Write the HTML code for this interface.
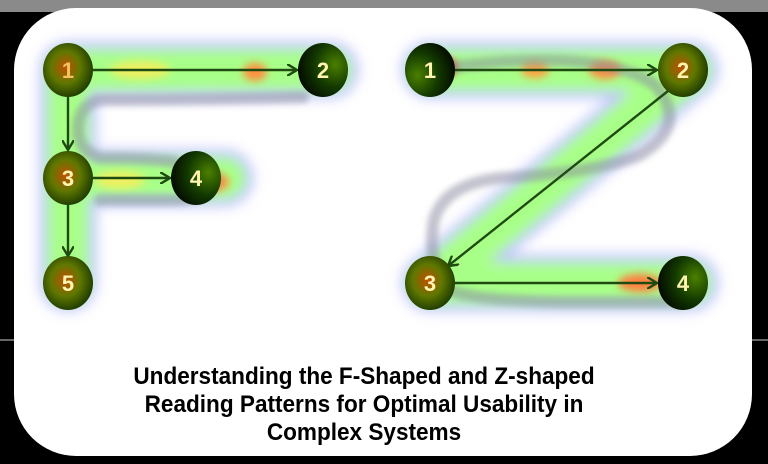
<!DOCTYPE html>
<html><head><meta charset="utf-8"><style>
html,body{margin:0;padding:0;background:#000;}
body{width:768px;height:464px;overflow:hidden;position:relative;}
.t{position:absolute;left:0;width:728px;text-align:center;font:bold 24px "Liberation Sans",sans-serif;color:#000;transform:scaleX(0.94);transform-origin:364px 0;}
</style></head><body>
<svg width="768" height="464" style="position:absolute;left:0;top:0">
<defs>
<filter id="b" x="-30%" y="-60%" width="160%" height="220%"><feGaussianBlur stdDeviation="6"/></filter>
<filter id="b3" x="-30%" y="-60%" width="160%" height="220%"><feGaussianBlur stdDeviation="3"/></filter>
<filter id="b2" x="-30%" y="-60%" width="160%" height="220%"><feGaussianBlur stdDeviation="4"/></filter>
<radialGradient id="g1" cx="0.45" cy="0.45" r="0.65"><stop offset="0" stop-color="#c05000"/><stop offset="0.45" stop-color="#607800"/><stop offset="1" stop-color="#0b2a00"/></radialGradient>
<radialGradient id="g2" cx="0.75" cy="0.4" r="0.85"><stop offset="0" stop-color="#4a8000"/><stop offset="0.5" stop-color="#123800"/><stop offset="1" stop-color="#000"/></radialGradient>
<marker id="a" markerWidth="12" markerHeight="12" refX="10" refY="6" orient="auto" markerUnits="userSpaceOnUse" viewBox="0 0 12 12"><path d="M0,0 L10,6 L0,12" fill="none" stroke="#1f4a10" stroke-width="2.4"/></marker>
</defs>
<rect x="0" y="0" width="768" height="12" fill="#8a8a8a"/>
<rect x="0" y="339" width="20" height="2" fill="#666"/><rect x="748" y="339" width="20" height="2" fill="#666"/>
<rect x="14" y="8" width="738" height="448" rx="62" fill="#fff"/>
<g filter="url(#b)">
<g stroke="#c4c4ff" stroke-width="58" fill="none" stroke-linecap="round" stroke-linejoin="round">
<path d="M68,70 H330 M68,70 V283 M68,178 H225"/>
<path d="M430,70 H690 L430,283 H690"/>
</g>
<g stroke="#a8ff88" stroke-width="42" fill="none" stroke-linecap="round" stroke-linejoin="round">
<path d="M68,70 H330 M68,70 V283 M68,178 H225"/>
<path d="M430,70 H690 L430,283 H690"/>
</g>
</g>
<g filter="url(#b2)">
<ellipse cx="140" cy="70" rx="30" ry="9" fill="#eef060"/>
<ellipse cx="255" cy="72" rx="12" ry="9" fill="#ff9040"/>
<ellipse cx="535" cy="70" rx="14" ry="8" fill="#ffa040"/>
<ellipse cx="605" cy="70" rx="16" ry="9" fill="#ff9040"/>
<ellipse cx="448" cy="67" rx="8" ry="8" fill="#ff1000"/>
<ellipse cx="215" cy="182" rx="14" ry="9" fill="#ff9040"/>
<ellipse cx="640" cy="283" rx="22" ry="9" fill="#ff8040"/>
<ellipse cx="120" cy="180" rx="25" ry="9" fill="#eef060"/>
</g>
<g fill="none" stroke="#8a8aa0" stroke-opacity="0.5" stroke-width="12" stroke-linecap="round" filter="url(#b3)">
<path d="M303,97 Q200,100 100,100 Q78,105 78,130 Q78,150 100,158 Q150,158 175,162 M215,178 Q210,200 170,200 H100"/>
<path d="M430,70 Q600,45 655,85 Q690,125 640,155 Q600,172 500,178 Q440,185 433,225 Q428,270 450,290 Q470,300 560,302 H680"/>
</g>
<g stroke="#1f4a10" stroke-width="2.4" fill="none">
<line x1="93" y1="70" x2="297" y2="70" marker-end="url(#a)"/>
<line x1="68" y1="97" x2="68" y2="150" marker-end="url(#a)"/>
<line x1="93" y1="178" x2="170" y2="178" marker-end="url(#a)"/>
<line x1="68" y1="205" x2="68" y2="256" marker-end="url(#a)"/>
<line x1="455" y1="70" x2="657" y2="70" marker-end="url(#a)"/>
<line x1="668" y1="91" x2="448" y2="266" marker-end="url(#a)"/>
<line x1="455" y1="283" x2="657" y2="283" marker-end="url(#a)"/>
</g>
<g font-family="Liberation Sans,sans-serif" font-weight="bold" font-size="22" text-anchor="middle">
<ellipse cx="68" cy="70" rx="25" ry="27" fill="url(#g1)"/><text x="68" y="78" fill="#f5c060">1</text>
<ellipse cx="323" cy="70" rx="25" ry="27" fill="url(#g2)"/><text x="323" y="78" fill="#fff4b0">2</text>
<ellipse cx="68" cy="178" rx="25" ry="27" fill="url(#g1)"/><text x="68" y="186" fill="#fff4b0">3</text>
<ellipse cx="196" cy="178" rx="25" ry="27" fill="url(#g2)"/><text x="196" y="186" fill="#fff4b0">4</text>
<ellipse cx="68" cy="283" rx="25" ry="27" fill="url(#g1)"/><text x="68" y="291" fill="#fff4b0">5</text>
<ellipse cx="430" cy="70" rx="25" ry="27" fill="url(#g2)" transform="rotate(180 430 70)"/><text x="430" y="78" fill="#fff4b0">1</text>
<ellipse cx="683" cy="70" rx="25" ry="27" fill="url(#g1)"/><text x="683" y="78" fill="#fff4b0">2</text>
<ellipse cx="430" cy="283" rx="25" ry="27" fill="url(#g1)"/><text x="430" y="291" fill="#fff4b0">3</text>
<ellipse cx="683" cy="283" rx="25" ry="27" fill="url(#g2)"/><text x="683" y="291" fill="#fff4b0">4</text>
</g>
</svg>
<div class="t" style="top:363px">Understanding the F-Shaped and Z-shaped</div>
<div class="t" style="top:391px">Reading Patterns for Optimal Usability in</div>
<div class="t" style="top:419px">Complex Systems</div>
</body></html>
